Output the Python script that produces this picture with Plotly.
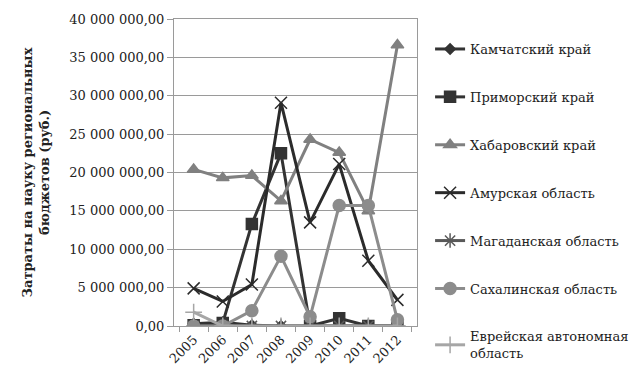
import plotly.graph_objects as go

years = ["2005", "2006", "2007", "2008", "2009", "2010", "2011", "2012"]
names = ["Камчатский край", "Приморский край", "Хабаровский край", "Амурская область",
         "Магаданская область", "Сахалинская область", "Еврейская автономная<br>область"]
kamchatka = [300000, 500000, 100000, 0, 0, 0, 0, 0]
primorye = [100000, 400000, 13300000, 22500000, 0, 1000000, 0, 0]
khabarovsk = [20400000, 19300000, 19600000, 16300000, 24300000, 22600000, 15000000, 36600000]
amur = [4900000, 3200000, 5400000, 29100000, 13500000, 21100000, 8500000, 3400000]
magadan = [0, 0, 0, 0, 0, 0, 0, 0]
sakhalin = [0, 0, 2000000, 9100000, 1200000, 15700000, 15700000, 800000]
jewish = [1800000, 0, 0, 0, 0, 0, 0, 0]
yticks = [0, 5000000, 10000000, 15000000, 20000000, 25000000, 30000000, 35000000, 40000000]

series = [kamchatka, primorye, khabarovsk, amur, magadan, sakhalin, jewish]
colors = ["#333333", "#333333", "#808080", "#2b2b2b", "#595959", "#8c8c8c", "#a6a6a6"]
symbols = ["diamond", "square", "triangle-up", "x-thin-open", "asterisk-open", "circle", "cross-thin-open"]
sizes = [8, 11, 11, 12, 12, 12, 12]

FONT = "DejaVu Serif"

fig = go.Figure()
for i, (nm, vals) in enumerate(zip(names, series)):
    fig.add_trace(go.Scatter(
        x=years, y=vals, name=nm, mode="lines+markers", legendgroup=str(i),
        line=dict(color=colors[i], width=3),
        marker=dict(symbol=symbols[i], size=sizes[i], color=colors[i],
                    line=dict(color=colors[i], width=1.5)),
    ))

fig.update_layout(
    width=640, height=378,
    margin=dict(l=174, r=214, t=19, b=50),
    paper_bgcolor="white", plot_bgcolor="white",
    separators=", ",
    font=dict(family=FONT, size=13, color="#222222"),
    legend=dict(xref="container", yref="container", x=0.672, y=0.91,
                xanchor="left", yanchor="top",
                font=dict(family=FONT, size=13, color="#222222"),
                tracegroupgap=28, itemwidth=30, maxheight=370),
    showlegend=True,
)
fig.update_yaxes(
    range=[0, 40000000], tickvals=yticks, tickformat=",.2f",
    showgrid=True, gridcolor="#9a9a9a", gridwidth=1,
    showline=True, linecolor="#9a9a9a", linewidth=1, mirror=True,
    ticks="outside", ticklen=6, tickcolor="#9a9a9a",
    tickfont=dict(family=FONT, size=13, color="#222222"),
    zeroline=False,
    title=dict(text="<b>Затраты на науку региональных<br>бюджетов (руб.)</b>",
               font=dict(family=FONT, size=13, color="#222222"), standoff=16),
)
fig.update_xaxes(
    type="category", tickangle=-45, showgrid=False,
    showline=True, linecolor="#9a9a9a", linewidth=1, mirror=True,
    ticks="outside", tickson="boundaries", ticklen=5, tickcolor="#9a9a9a",
    tickfont=dict(family=FONT, size=13, color="#222222"),
)
fig.write_html("out.html")
